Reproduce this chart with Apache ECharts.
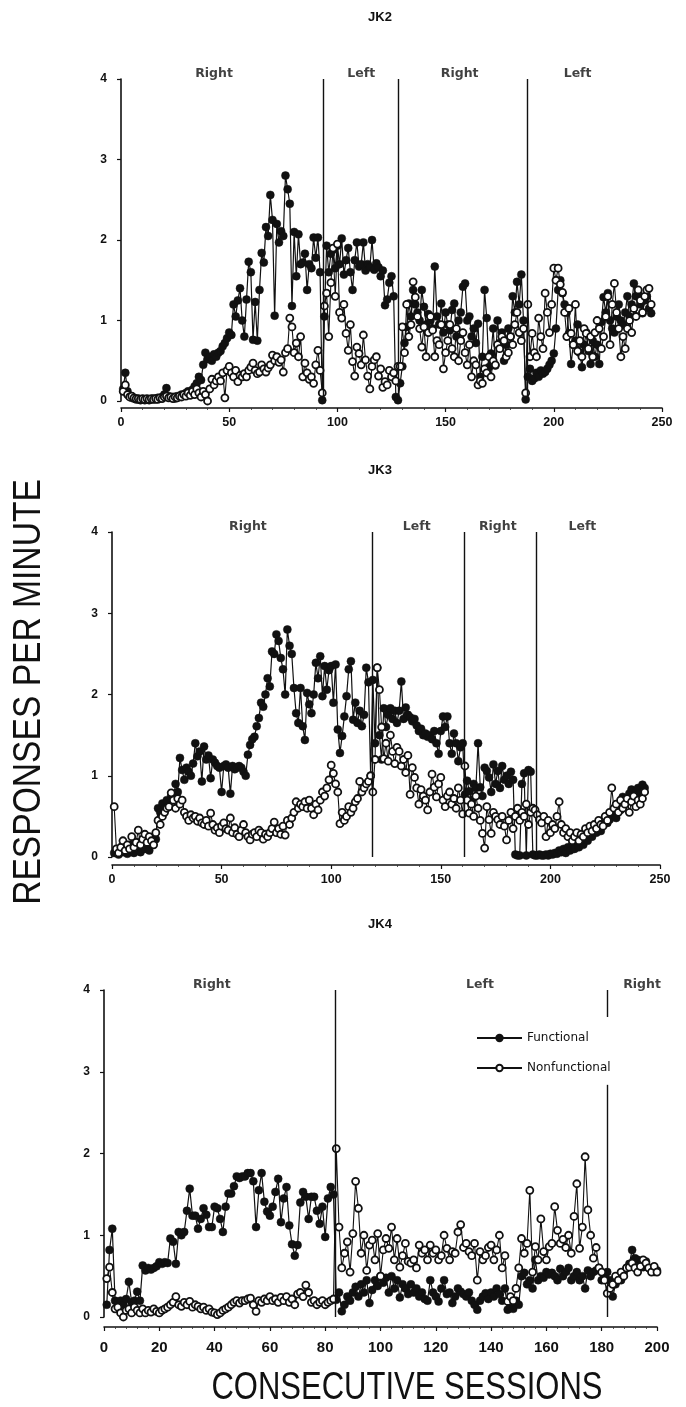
<!DOCTYPE html>
<html><head><meta charset="utf-8">
<script src="https://cdn.jsdelivr.net/npm/echarts@6/dist/echarts.min.js"></script>
<style>html,body{margin:0;padding:0;background:#fff}#c{width:686px;height:1407px}</style>
</head><body><div id="c"></div>
<script>
// ---------- JK2 (sessions 1..245) ----------
const jk2Functional = [
0.15,0.35,0.12,0.06,0.04,0.03,0.02,0.02,0.01,0.02,
0.01,0.02,0.01,0.02,0.03,0.02,0.04,0.03,0.05,0.08,
0.16,0.06,0.04,0.05,0.03,0.06,0.05,0.08,0.07,0.10,
0.12,0.08,0.14,0.18,0.22,0.30,0.26,0.45,0.60,0.52,
0.55,0.50,0.58,0.55,0.60,0.62,0.68,0.72,0.78,0.85,
0.82,1.20,1.05,1.25,1.40,1.00,0.80,1.26,1.73,1.60,
0.76,1.23,0.75,1.38,1.84,1.72,2.16,2.05,2.56,2.25,
1.06,2.20,1.97,2.11,2.05,2.80,2.63,2.45,1.18,2.10,
1.55,2.07,1.70,1.72,1.83,1.38,1.70,1.65,2.03,1.78,
2.03,1.60,0.01,1.05,1.93,1.60,1.83,1.88,1.65,1.93,
1.70,2.02,1.57,1.75,1.90,1.60,1.38,1.75,1.97,1.67,
1.70,1.97,1.62,1.70,1.66,2.00,1.63,1.71,1.66,1.55,
1.62,1.19,1.26,1.47,1.55,1.30,0.05,0.01,0.22,0.43,
0.72,0.92,1.21,1.05,1.38,1.20,1.10,1.00,1.38,1.17,
0.95,1.08,1.00,0.90,1.67,1.05,0.95,1.21,0.85,1.10,
0.95,0.88,1.13,1.21,0.80,1.00,1.10,1.42,1.46,1.00,
1.05,0.80,0.90,0.72,0.96,0.30,0.55,1.38,1.03,0.42,
0.59,0.90,0.44,1.00,0.72,0.85,0.50,0.70,0.90,0.80,
1.30,1.10,1.48,1.20,1.57,1.00,0.02,0.30,0.40,0.25,
0.28,0.35,0.30,0.38,0.34,0.36,0.40,0.45,0.50,0.59,
0.90,1.38,1.50,1.34,1.20,1.10,0.84,0.46,0.70,0.75,
0.95,0.60,0.42,0.70,0.85,0.62,0.46,0.75,0.55,0.70,
0.46,0.98,1.29,1.10,1.34,1.00,0.90,0.85,1.05,1.20,
1.00,0.95,1.10,1.30,1.05,1.20,1.46,1.30,1.34,1.20,
1.09,1.25,1.30,1.15,1.09];
const jk2Nonfunctional = [
0.12,0.20,0.08,0.05,0.06,0.04,0.03,0.03,0.02,0.03,
0.02,0.03,0.02,0.03,0.02,0.03,0.02,0.04,0.03,0.05,
0.06,0.04,0.05,0.03,0.05,0.04,0.06,0.05,0.08,0.06,
0.10,0.07,0.12,0.08,0.15,0.10,0.05,0.12,0.08,0.00,
0.15,0.27,0.20,0.25,0.30,0.25,0.35,0.04,0.38,0.43,
0.35,0.30,0.38,0.24,0.32,0.30,0.34,0.30,0.38,0.42,
0.47,0.38,0.34,0.36,0.45,0.40,0.36,0.41,0.45,0.57,
0.50,0.55,0.48,0.51,0.36,0.60,0.65,1.03,0.92,0.60,
0.72,0.55,0.80,0.30,0.47,0.35,0.27,0.30,0.22,0.45,
0.63,0.38,0.10,1.18,1.34,0.80,1.47,1.90,1.30,1.95,
1.10,1.03,1.20,0.84,0.63,0.95,0.49,0.31,0.67,0.59,
0.45,0.82,0.51,0.31,0.15,0.43,0.51,0.55,0.31,0.40,
0.17,0.24,0.20,0.38,0.30,0.35,0.25,0.43,0.43,0.92,
0.60,1.20,0.80,0.95,1.48,1.29,1.05,0.90,0.67,0.92,
0.55,0.85,1.05,0.88,0.55,0.75,0.70,0.95,0.40,0.60,
0.75,0.95,0.65,0.55,0.90,0.50,0.75,0.85,0.60,0.45,
0.70,0.30,0.50,0.45,0.20,0.25,0.22,0.40,0.35,0.55,
0.30,0.50,0.45,0.70,0.65,0.80,0.75,0.55,0.60,0.80,
0.70,0.95,1.10,0.85,0.75,0.90,0.10,1.20,0.55,0.84,
0.60,0.55,1.03,0.80,0.65,1.34,1.10,0.85,1.20,1.65,
1.50,1.65,1.45,1.35,1.10,0.80,1.15,0.84,0.70,1.20,
0.62,0.75,0.55,0.90,0.84,0.65,0.80,0.55,0.85,1.00,
0.90,0.65,0.80,1.05,1.30,0.70,1.20,1.46,1.10,0.90,
0.55,0.80,0.65,0.90,1.00,0.85,1.15,1.05,1.38,1.25,
1.10,1.30,1.38,1.40,1.20];
const jk2PhaseLines = [93.6, 128.3, 187.9];
const jk2PhaseNames = ["Right","Left","Right","Left"];
const jk2PhaseNamePos = [43, 111, 156.5, 211];

// ---------- JK3 (sessions 1..243) ----------
const jk3Functional = [
0.05,0.08,0.03,0.10,0.06,0.12,0.04,0.15,0.08,0.05,
0.10,0.18,0.06,0.14,0.10,0.20,0.08,0.15,0.25,0.22,
0.60,0.55,0.66,0.60,0.70,0.62,0.75,0.72,0.90,0.80,
1.22,1.07,0.95,1.10,1.05,1.00,1.15,1.40,1.24,1.30,
0.93,1.36,1.20,1.25,0.97,1.20,1.16,1.12,1.10,0.80,
1.12,1.14,1.10,0.78,1.12,1.08,1.10,1.12,1.10,1.05,
1.00,1.26,1.38,1.45,1.48,1.61,1.71,1.90,1.85,2.00,
2.20,2.10,2.53,2.50,2.74,2.66,2.45,2.31,2.00,2.80,
2.60,2.50,2.08,1.77,1.65,2.08,1.61,1.44,2.02,1.88,
1.77,2.00,2.39,2.20,2.47,1.98,2.35,2.06,2.30,2.35,
1.90,2.37,1.57,1.28,1.49,1.73,1.98,2.31,2.41,1.69,
1.90,1.65,1.80,1.61,1.75,2.33,2.15,1.00,2.18,1.40,
2.33,1.50,1.20,1.83,1.60,1.75,1.83,1.70,1.80,1.65,
1.80,2.16,1.70,1.84,1.75,1.72,1.67,1.70,1.62,1.55,
1.58,1.50,1.52,1.48,1.50,1.45,1.55,1.40,1.27,1.55,
1.73,1.60,1.73,1.40,1.27,1.52,1.40,1.18,1.35,1.40,
0.77,0.94,0.81,0.70,0.90,0.85,1.40,0.86,0.75,1.10,
1.06,0.98,0.80,1.14,0.90,1.06,0.85,1.12,0.95,1.00,
0.90,1.05,0.95,0.03,0.02,0.02,0.90,1.03,0.02,1.07,
1.05,0.03,0.02,0.02,0.03,0.02,0.02,0.03,0.02,0.04,
0.03,0.05,0.04,0.08,0.06,0.10,0.05,0.12,0.08,0.15,
0.10,0.21,0.12,0.18,0.15,0.22,0.20,0.28,0.25,0.35,
0.30,0.38,0.32,0.40,0.45,0.42,0.46,0.50,0.55,0.48,
0.62,0.58,0.74,0.65,0.70,0.78,0.83,0.72,0.80,0.85,
0.78,0.89,0.85];
const jk3Nonfunctional = [
0.62,0.10,0.05,0.12,0.20,0.08,0.15,0.10,0.25,0.12,
0.18,0.33,0.15,0.22,0.28,0.18,0.25,0.20,0.15,0.30,
0.45,0.40,0.50,0.55,0.60,0.62,0.79,0.70,0.60,0.72,
0.65,0.70,0.55,0.50,0.45,0.52,0.48,0.50,0.44,0.48,
0.42,0.40,0.45,0.38,0.54,0.40,0.33,0.36,0.30,0.38,
0.42,0.35,0.33,0.48,0.30,0.36,0.28,0.25,0.33,0.40,
0.30,0.25,0.21,0.28,0.30,0.25,0.33,0.30,0.22,0.28,
0.25,0.30,0.35,0.43,0.30,0.35,0.28,0.38,0.27,0.45,
0.40,0.48,0.55,0.68,0.60,0.65,0.62,0.68,0.60,0.70,
0.60,0.52,0.65,0.58,0.70,0.80,0.75,0.85,0.95,1.13,
1.03,0.90,0.80,0.41,0.55,0.45,0.50,0.62,0.55,0.60,
0.68,0.72,0.93,0.80,0.85,0.90,0.93,1.00,0.80,1.20,
2.33,2.06,1.60,1.21,1.40,1.18,1.50,1.30,1.15,1.35,
1.30,1.12,1.20,1.04,1.25,0.77,1.10,0.98,0.85,0.65,
0.83,0.75,0.70,0.58,0.80,1.02,0.86,0.74,0.90,0.98,
0.70,0.62,0.75,0.80,0.65,0.72,0.60,0.85,0.70,0.53,
1.12,0.70,0.54,0.65,0.50,0.75,0.60,0.45,0.29,0.11,
0.62,0.46,0.29,0.55,0.50,0.46,0.40,0.50,0.38,0.21,
0.45,0.55,0.35,0.50,0.60,0.45,0.55,0.50,0.65,0.40,
0.55,0.60,0.58,0.52,0.46,0.42,0.50,0.25,0.45,0.30,
0.40,0.35,0.50,0.68,0.40,0.30,0.35,0.25,0.30,0.20,
0.25,0.30,0.20,0.28,0.25,0.35,0.30,0.38,0.32,0.40,
0.35,0.45,0.40,0.38,0.50,0.45,0.55,0.85,0.60,0.65,
0.55,0.70,0.60,0.65,0.72,0.55,0.68,0.75,0.62,0.70,
0.65,0.72,0.80];
const jk3PhaseLines = [118.7, 160.7, 193.6];
const jk3PhaseNames = ["Right","Left","Right","Left"];
const jk3PhaseNamePos = [62, 139, 176, 214.6];

// ---------- JK4 (sessions 1..200) ----------
const jk4Functional = [
0.15,0.82,1.08,0.20,0.18,0.20,0.15,0.22,0.43,0.18,
0.20,0.31,0.20,0.63,0.57,0.60,0.58,0.60,0.62,0.67,
0.65,0.67,0.66,0.96,0.92,0.65,1.04,1.00,1.04,1.30,
1.57,1.24,1.24,1.08,1.20,1.33,1.25,1.10,1.10,1.35,
1.33,1.20,1.04,1.35,1.51,1.51,1.60,1.72,1.70,1.72,
1.72,1.76,1.76,1.66,1.10,1.55,1.76,1.41,1.29,1.24,
1.35,1.53,1.69,1.16,1.45,1.59,1.12,0.89,0.75,0.88,
1.40,1.53,1.47,1.20,1.47,1.47,1.30,1.14,1.35,0.98,
1.45,1.59,1.50,0.21,0.30,0.07,0.15,0.25,0.20,0.30,
0.37,0.25,0.40,0.30,0.45,0.17,0.33,0.45,0.38,0.50,
0.42,0.48,0.30,0.50,0.35,0.45,0.24,0.40,0.35,0.28,
0.40,0.30,0.35,0.25,0.30,0.22,0.20,0.45,0.30,0.25,
0.19,0.35,0.45,0.28,0.30,0.17,0.25,0.35,0.31,0.28,
0.25,0.30,0.20,0.15,0.09,0.20,0.25,0.29,0.22,0.30,
0.25,0.35,0.28,0.20,0.35,0.09,0.13,0.10,0.20,0.15,
0.50,0.54,0.40,0.45,0.35,0.70,0.45,0.50,0.48,0.55,
0.52,0.54,0.50,0.45,0.59,0.50,0.55,0.60,0.45,0.50,
0.55,0.45,0.50,0.35,0.57,0.50,0.55,0.57,0.60,0.45,
0.50,0.55,0.45,0.25,0.40,0.50,0.45,0.55,0.60,0.65,
0.82,0.72,0.70,0.65,0.61,0.68,0.60,0.57,0.55,0.57];
const jk4Nonfunctional = [
0.47,0.61,0.30,0.10,0.12,0.05,0.00,0.08,0.10,0.05,
0.12,0.08,0.05,0.10,0.05,0.08,0.06,0.10,0.07,0.05,
0.08,0.10,0.12,0.15,0.18,0.25,0.15,0.13,0.18,0.15,
0.19,0.12,0.15,0.13,0.10,0.12,0.08,0.10,0.06,0.05,
0.03,0.05,0.08,0.10,0.12,0.15,0.18,0.20,0.17,0.20,
0.20,0.22,0.23,0.15,0.07,0.20,0.18,0.22,0.20,0.25,
0.20,0.22,0.18,0.24,0.20,0.25,0.18,0.22,0.15,0.28,
0.30,0.25,0.39,0.30,0.18,0.20,0.15,0.18,0.20,0.15,
0.18,0.20,0.22,2.06,1.10,0.60,0.78,0.92,0.55,1.02,
1.66,1.33,0.78,1.00,0.57,0.88,0.94,0.70,1.02,0.50,
0.82,0.96,0.84,1.10,0.70,0.96,0.61,0.75,0.90,0.68,
0.66,0.70,0.60,0.88,0.78,0.82,0.70,0.88,0.78,0.82,
0.70,0.75,1.00,0.84,0.70,0.80,0.78,1.04,1.13,0.85,
0.90,0.80,0.75,0.90,0.45,0.80,0.70,0.75,0.85,0.88,
0.70,0.82,1.00,0.60,0.75,0.19,0.25,0.20,0.35,0.60,
0.96,0.78,0.90,1.55,0.55,0.86,0.70,1.20,0.80,0.70,
0.86,0.90,1.35,1.06,0.90,0.95,0.85,1.00,0.78,1.23,
1.63,0.84,1.10,1.96,1.31,1.00,0.72,0.85,0.60,0.55,
0.45,0.29,0.35,0.40,0.50,0.45,0.55,0.50,0.60,0.61,
0.66,0.60,0.55,0.62,0.70,0.66,0.60,0.55,0.62,0.55];
const jk4PhaseLines = [83.5, 181.9];
const jk4PhaseNames = ["Right","Left","Right"];
const jk4PhaseNamePos = [39, 136, 194.6];

const panelTitles = ["JK2","JK3","JK4"];
const yTicks = [0,1,2,3,4];
const xMaxes = [250, 250, 200];
const xIntervals = [50, 50, 20];

// ---------- build ----------
const FONT = "'Liberation Sans', Arial, Helvetica, sans-serif";
const WIDE = "'DejaVu Sans', Verdana, sans-serif";
const panels = [
  {f: jk2Functional, n: jk2Nonfunctional, lines: jk2PhaseLines, names: jk2PhaseNames, pos: jk2PhaseNamePos},
  {f: jk3Functional, n: jk3Nonfunctional, lines: jk3PhaseLines, names: jk3PhaseNames, pos: jk3PhaseNamePos},
  {f: jk4Functional, n: jk4Nonfunctional, lines: jk4PhaseLines, names: jk4PhaseNames, pos: jk4PhaseNamePos}
];
const grids = [
  {left: 121, right: 24, top: 79, height: 322},
  {left: 112, right: 26, top: 532, height: 325},
  {left: 104, right: 29, top: 990, height: 327}
];
const xOffsets = [7, 8, 10];
const yOffsets = [4, 4, 4];
const xLabelSize = [12.5, 12.5, 15];
const xLabelMargin = [8, 8, 13];

const toPts = arr => arr.map((v, i) => [i + 1, v]);

const series = [];
panels.forEach((p, gi) => {
  let mlData = p.lines.map(x => [{coord: [x, 0]}, {coord: [x, 4]}]);
  if (gi === 2) {
    mlData = [
      [{coord: [p.lines[0], 0]}, {coord: [p.lines[0], 4]}],
      [{coord: [p.lines[1], 3.67]}, {coord: [p.lines[1], 4]}],
      [{coord: [p.lines[1], 0]}, {coord: [p.lines[1], 2.84]}]
    ];
  }
  series.push({
    name: 'Functional', type: 'line', xAxisIndex: gi, yAxisIndex: gi,
    data: toPts(p.f), symbol: 'circle', symbolSize: 8, showAllSymbol: true,
    lineStyle: {color: '#111', width: 1.2}, itemStyle: {color: '#111', borderColor: '#111', borderWidth: 0.5},
    emphasis: {disabled: true}, silent: true, z: 3,
    markLine: {symbol: 'none', silent: true, animation: false,
      lineStyle: {color: '#111', width: 1.4, type: 'solid'}, label: {show: false}, data: mlData}
  });
  series.push({
    name: 'Nonfunctional', type: 'line', xAxisIndex: gi, yAxisIndex: gi,
    data: toPts(p.n), symbol: 'circle', symbolSize: 7, showAllSymbol: true,
    lineStyle: {color: '#111', width: 1.1}, itemStyle: {color: '#fff', borderColor: '#111', borderWidth: 1.8},
    emphasis: {disabled: true}, silent: true, z: 4
  });
  series.push({
    name: 'phase' + gi, type: 'scatter', xAxisIndex: gi, yAxisIndex: gi, clip: false,
    data: p.names.map((nm, i) => [p.pos[i], 4.06, nm]),
    symbol: 'circle', symbolSize: 1, itemStyle: {color: 'rgba(0,0,0,0)'}, silent: true,
    label: {show: true, position: 'inside', formatter: d => d.data[2],
      color: '#111', fontFamily: WIDE, fontWeight: 'bold', fontSize: 12.5}
  });
});

const option = {
  animation: false,
  backgroundColor: '#fff',
  grid: grids.map(g => Object.assign({containLabel: false, outerBoundsMode: 'none'}, g)),
  xAxis: grids.map((g, gi) => ({
    type: 'value', gridIndex: gi, min: 0, max: xMaxes[gi], interval: xIntervals[gi],
    offset: xOffsets[gi],
    axisLine: {show: true, onZero: false, lineStyle: {color: '#111', width: 1.6}},
    axisTick: {show: true, length: 4, lineStyle: {color: '#111', width: 1.2}},
    minorTick: {show: true, splitNumber: 5, length: 2, lineStyle: {color: '#333', width: 0.8}},
    splitLine: {show: false},
    axisLabel: {margin: xLabelMargin[gi], color: '#111', fontFamily: FONT, fontWeight: 'bold', fontSize: xLabelSize[gi]}
  })),
  yAxis: grids.map((g, gi) => ({
    type: 'value', gridIndex: gi, min: 0, max: 4, interval: 1, offset: yOffsets[gi],
    axisLine: {show: true, lineStyle: {color: '#111', width: 1.6}},
    axisTick: {show: true, length: 4, lineStyle: {color: '#111', width: 1.2}},
    splitLine: {show: false},
    axisLabel: {margin: 10, formatter: v => yTicks.includes(v) ? String(v) : '',
      color: '#111', fontFamily: FONT, fontWeight: 'bold', fontSize: 12}
  })),
  legend: {
    data: ['Functional', 'Nonfunctional'], orient: 'vertical', left: 476, top: 1032, padding: 0,
    itemWidth: 45, itemHeight: 8, itemGap: 18, selectedMode: false,
    textStyle: {color: '#111', fontFamily: WIDE, fontSize: 12}
  },
  graphic: [
    ...panelTitles.map((t, i) => ({type: 'text', x: 380, y: [17, 470, 924][i],
      style: {text: t, font: 'bold 13px ' + FONT, fill: '#111', align: 'center', verticalAlign: 'middle'}})),
    {type: 'text', x: 29, y: 692, rotation: Math.PI / 2, scaleX: 1.05, scaleY: 1.2,
      style: {text: 'RESPONSES PER MINUTE', font: '32px ' + FONT, fill: '#111', align: 'center', verticalAlign: 'middle'}},
    {type: 'text', x: 407, y: 1388, scaleX: 1.0, scaleY: 1.25,
      style: {text: 'CONSECUTIVE SESSIONS', font: '31px ' + FONT, fill: '#111', align: 'center', verticalAlign: 'middle'}}
  ],
  series: series
};
const chart = echarts.init(document.getElementById('c'), null, {renderer: 'canvas'});
chart.setOption(option);
</script>
</body></html>
